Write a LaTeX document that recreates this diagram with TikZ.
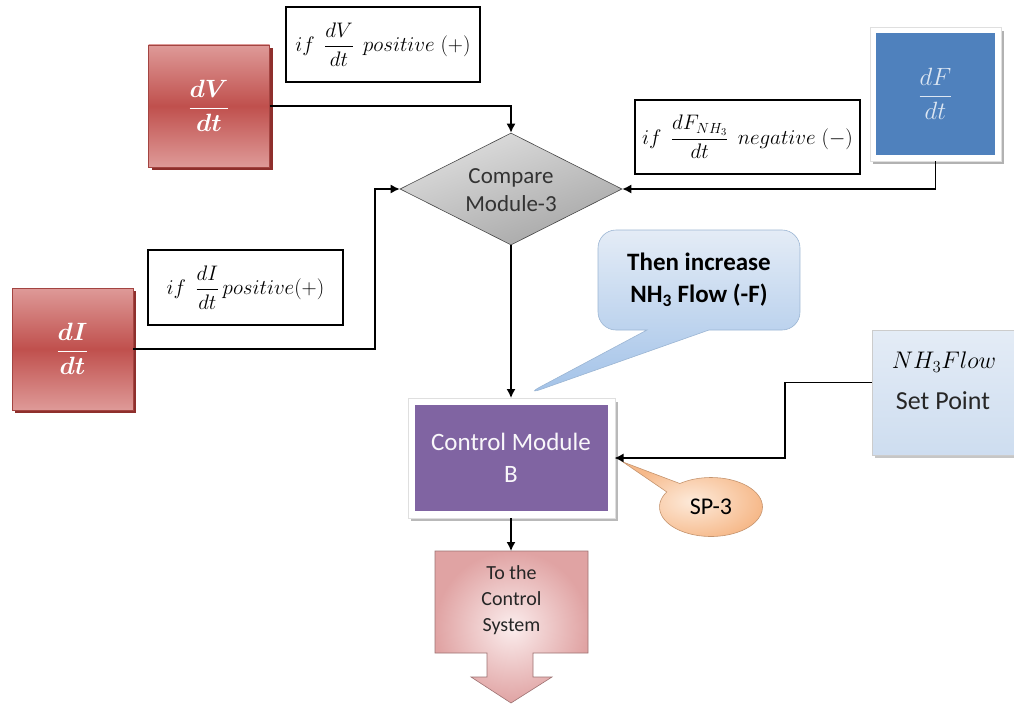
\RequirePackage{fix-cm}
\documentclass[tikz,border=0pt]{standalone}
\usepackage{amsmath}
\usepackage{fontspec}
\setmainfont{Carlito}
\usetikzlibrary{arrows.meta,shapes.geometric,shapes.callouts}
\definecolor{redM}{HTML}{C0504D}
\definecolor{redL}{HTML}{DE9A98}
\definecolor{redD}{HTML}{8E2F2C}
\definecolor{blueM}{HTML}{4F81BD}
\definecolor{blueT}{HTML}{DCE6F2}
\definecolor{purp}{HTML}{8064A2}
\definecolor{skyT}{HTML}{E4ECF6}
\definecolor{skyB}{HTML}{A2C2E8}
\definecolor{orgT}{HTML}{FDEADA}
\definecolor{orgB}{HTML}{F6B98A}
\definecolor{pinkE}{HTML}{E0A3A3}
\definecolor{pinkC}{HTML}{FBEDED}
\tikzset{
  redbox/.style={draw=redM!85!black, line width=0.8pt, top color=redL, bottom color=redL, middle color=redM,
    minimum width=121pt, minimum height=122pt, inner sep=0pt, text=white},
  condbox/.style={draw=black, line width=1.3pt, fill=white, inner sep=0pt},
  arr/.style={draw=black, line width=1.4pt, -{Latex[length=9pt,width=9pt]}},
  condtxt/.style={font=\fontsize{21}{25}\selectfont},
}
\begin{document}
\begin{tikzpicture}[x=1pt,y=-1pt]
\useasboundingbox (0,0) rectangle (1014,706);
% shadows and outer frames
\fill[redD] (151.5,48) rectangle (273,170);
\fill[redD] (15,291) rectangle (136,413);
\fill[gray!60] (873,31) rectangle (1004,164);
\filldraw[fill=white, draw=gray!25, line width=0.6pt] (870,27) rectangle (1001,161);
\fill[gray!55] (411,402) rectangle (618,521);
\filldraw[fill=white, draw=gray!25, line width=0.6pt] (408,398) rectangle (615,518);
\fill[gray!45] (875,333) rectangle (1020,458);
% red dV/dt box
\node[redbox] (dv) at (209,106) {\fontsize{25}{29}\selectfont$\dfrac{\boldsymbol{dV}}{\boldsymbol{dt}}$};
% red dI/dt box
\node[redbox] (di) at (72.5,349) {\fontsize{25}{29}\selectfont$\dfrac{\boldsymbol{dI}}{\boldsymbol{dt}}$};
% blue dF/dt
\node[fill=blueM, minimum width=119pt, minimum height=122pt, outer sep=6pt, text=blueT] (df) at (935.5,94)
  {\fontsize{25}{29}\selectfont$\dfrac{dF}{dt}$};
% condition boxes
\node[condbox, condtxt, minimum width=194pt, minimum height=75pt] (cv) at (383,44.5)
  {$if\;\,\dfrac{dV}{dt}\;\,positive\;(+)$};
\node[condbox, condtxt, minimum width=225pt, minimum height=74pt] (cf) at (747.5,137)
  {$if\;\,\dfrac{dF_{NH_3}}{dt}\;\,negative\;(-)$};
\node[condbox, condtxt, minimum width=195pt, minimum height=75pt] (ci) at (245.5,287.5)
  {$if\;\,\dfrac{dI}{dt}\,positive(+)$};
% diamond
\node[diamond, minimum width=222pt, minimum height=112pt, inner sep=0pt, draw=gray!55!black, line width=0.6pt,
  top color=gray!25, bottom color=gray!70, shading angle=20] (cmp) at (511,189) {};
\node[font=\fontsize{23}{28}\selectfont, align=center, text=black!80] (cmptxt) at (511,190) {Compare\\Module-3};
% control module
\node[fill=purp, minimum width=193pt, minimum height=106pt, outer sep=7pt,
  text=white!95!purp, font=\fontsize{25}{32}\selectfont, align=center] (ctrl) at (511,458) {Control Module\\B};
% set point box
\node[draw=gray!40, line width=0.8pt, top color=skyT, bottom color=blueT!75!skyB, minimum width=148pt, minimum height=125pt] (sp) at (946,392.5) {};
\node[font=\fontsize{24}{28}\selectfont] (sptxt1) at (944,362) {$NH_3Flow$};
\node[font=\fontsize{26}{30}\selectfont, text=black!85] (sptxt2) at (943,401) {Set Point};
% callout Then increase
\node[rectangle callout, rounded corners=18pt, callout absolute pointer={(525,395)}, callout pointer width=62pt,
  draw=skyB!80!gray, line width=0.6pt, top color=skyT, bottom color=skyB, minimum width=202pt, minimum height=100pt,
  font=\fontsize{25}{32}\selectfont\bfseries, align=center] (thn) at (699,280) {Then increase\\NH\textsubscript{3} Flow (-F)};
% SP-3 callout
\node[ellipse callout, callout absolute pointer={(623,462)}, callout pointer arc=22,
  draw=orgB!80!black, line width=0.6pt, inner color=orgT, outer color=orgB, minimum width=103pt, minimum height=59pt,
  font=\fontsize{24}{28}\selectfont] (sp3) at (711,507) {SP-3};
% To the control system arrow
\path[draw=pinkE!70!black, line width=0.6pt, inner color=pinkC, outer color=pinkE]
  (435,551) -- (588,551) -- (588,653) -- (533,653) -- (533,677) -- (552,677) -- (511,703)
  -- (471,677) -- (487,677) -- (487,653) -- (435,653) -- cycle;
\node[font=\fontsize{20}{26}\selectfont, align=center, text=black!85] (tcs) at (511.5,600)
  {To the\\Control\\System};
\coordinate (tcstop) at (511,551);
% connectors
\draw[arr] (dv.east) -| (cmp.north);
\draw[arr] (di.east) -- (375,349) |- (cmp.west);
\draw[arr] (df.south) |- (cmp.east);
\draw[arr] (cmp.south) -- (ctrl.north);
\draw[arr] ([yshift=10pt]sp.west) -- (785,382.5) |- (ctrl.east);
\draw[arr] (ctrl.south) -- (tcstop);
\end{tikzpicture}
\end{document}
